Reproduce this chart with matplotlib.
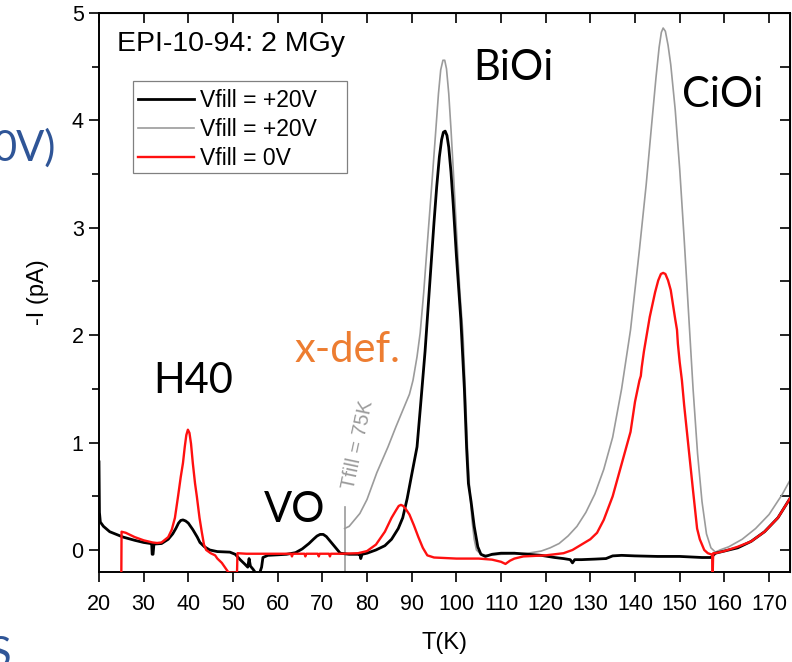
import matplotlib
matplotlib.use("Agg")
import matplotlib.pyplot as plt
from matplotlib.ticker import MultipleLocator
from matplotlib.lines import Line2D
from matplotlib.patches import Rectangle

# ---------------- data: TSC current spectra, EPI-10-94 after 2 MGy ----------------
# Vfill = +20V, filled at low temperature (black)
t_black = [20.0, 20.1, 20.3, 21.0, 22.4, 25.4, 28.0, 30.0, 31.6, 31.8, 31.9, 32.1, 32.3, 34.0,
           35.5, 36.5, 37.2, 37.8, 38.3, 38.8, 39.4, 40.0, 41.0, 42.0, 42.6, 43.6, 44.8, 46.5,
           49.3, 50.5, 51.6, 52.6, 53.3, 53.6, 53.9, 54.5, 55.0, 55.5, 56.0, 56.4, 56.7, 57.8,
           60.0, 62.0, 64.0, 65.5, 67.0, 68.0, 68.8, 69.5, 70.2, 70.9, 71.6, 72.8, 74.0, 76.0,
           78.0, 78.4, 78.6, 78.9, 80.0, 82.0, 84.0, 85.5, 87.0, 88.0, 89.0, 90.0, 91.2, 92.0,
           93.0, 94.0, 95.0, 95.6, 96.2, 96.7, 97.1, 97.5, 97.9, 98.3, 98.8, 99.3, 100.0,
           101.0, 101.8, 102.3, 102.7, 103.3, 104.0, 104.8, 105.5, 106.5, 108.0, 110.0, 113.0,
           116.0, 119.0, 122.0, 124.0, 125.5, 126.0, 126.5, 128.0, 131.0, 133.5, 135.0, 137.0,
           140.0, 145.0, 150.0, 155.0, 157.0, 157.5, 158.0, 160.0, 163.0, 166.0, 169.0, 172.0,
           174.7]
i_black = [0.82, 0.35, 0.26, 0.22, 0.17, 0.12, 0.09, 0.07, 0.06, 0.055, -0.04, -0.04, 0.055, 0.06,
           0.10, 0.15, 0.20, 0.25, 0.275, 0.28, 0.27, 0.25, 0.19, 0.12, 0.07, 0.03, 0.0, -0.015,
           -0.02, -0.04, -0.09, -0.13, -0.16, -0.08, -0.15, -0.18, -0.21, -0.21, -0.21, -0.16,
           -0.07, -0.05,
           -0.045, -0.04, -0.025, 0.01, 0.06, 0.10, 0.13, 0.145, 0.145, 0.125, 0.09, 0.03, -0.03,
           -0.04,
           -0.04, -0.04, -0.08, -0.04, -0.03, 0.0, 0.04, 0.10, 0.20, 0.30, 0.48, 0.70, 0.96, 1.35,
           1.85, 2.45, 3.05, 3.38, 3.66, 3.82, 3.89, 3.90, 3.86, 3.75, 3.52, 3.22, 2.75,
           2.15, 1.50, 0.95, 0.62, 0.45, 0.22, 0.03, -0.04, -0.06, -0.04, -0.03, -0.03,
           -0.04, -0.05, -0.07, -0.08, -0.09, -0.12, -0.09, -0.09, -0.085, -0.08, -0.055, -0.05,
           -0.055, -0.06, -0.06, -0.07, -0.07, -0.05, -0.03, -0.01, 0.02, 0.08, 0.17, 0.30,
           0.48]

# Vfill = +20V, filled at Tfill = 75K (grey)
t_grey = [75.0, 76.0, 77.0, 78.4, 80.0, 82.2, 84.7, 86.5, 88.0, 89.5, 90.3, 91.2, 91.9, 92.7,
          93.5, 94.5, 95.3, 96.0, 96.5, 97.0, 97.4, 97.8, 98.3, 98.8, 99.3, 100.0, 100.8,
          101.5, 102.0, 102.5, 103.0, 103.5, 104.0, 104.5, 105.5, 107.0, 110.0, 113.0, 116.0,
          119.0, 121.0, 123.0, 125.0, 127.0, 129.0, 131.0, 133.0, 135.0, 137.0, 139.0, 141.0,
          142.5, 143.7, 144.7, 145.4, 145.9, 146.3, 146.8, 147.4, 148.0, 149.0, 150.0, 151.0,
          152.0, 153.0, 154.0, 155.0, 156.0, 157.0, 158.0, 159.0, 161.0, 164.0, 167.0, 170.0,
          173.0, 174.7]
i_grey = [0.20, 0.22, 0.27, 0.34, 0.47, 0.72, 0.96, 1.15, 1.30, 1.45, 1.58, 1.80, 2.02, 2.40,
          2.85, 3.40, 3.85, 4.25, 4.47, 4.56, 4.56, 4.48, 4.25, 3.92, 3.55, 3.00, 2.40,
          2.00, 1.50, 0.95, 0.55, 0.28, 0.10, 0.0, -0.04, -0.05, -0.04, -0.035, -0.03,
          -0.01, 0.02, 0.06, 0.13, 0.22, 0.35, 0.52, 0.75, 1.05, 1.50, 2.05, 2.80,
          3.40, 3.95, 4.40, 4.68, 4.82, 4.86, 4.83, 4.70, 4.52, 4.10, 3.55, 2.90,
          2.20, 1.50, 0.90, 0.45, 0.15, 0.02, -0.02, 0.0, 0.03, 0.10, 0.20, 0.33,
          0.52, 0.65]

# Vfill = 0V (red)
t_red = [25.0, 25.05, 26.0, 27.0, 28.0, 30.0, 32.0, 33.0, 34.0, 35.5, 36.3, 37.0, 37.7, 38.3,
         38.8, 39.2, 39.55, 39.9, 40.25, 40.6, 41.0, 41.5, 41.9, 42.5, 43.0, 43.5, 44.0, 45.0,
         46.0, 46.5, 47.0, 47.5, 48.0, 48.5, 49.0, 50.9, 51.0, 53.0, 56.0, 60.0, 63.0, 63.2,
         63.4, 66.0, 66.2, 66.4, 69.0, 69.2, 69.4, 71.5, 71.7, 71.9, 74.0, 78.0, 80.0, 82.0,
         84.0, 85.5, 86.5, 87.1, 87.6, 88.1, 88.7, 89.5, 90.5, 91.5, 92.5, 93.5, 95.0, 100.0,
         105.0, 108.0, 110.0, 111.0, 112.0, 113.0, 115.0, 120.0, 122.0, 124.0, 126.0, 128.0,
         130.0, 131.5, 133.0, 135.0, 137.0, 139.0, 140.0, 141.0, 141.3, 141.5, 142.0, 143.3,
         144.5, 145.2, 145.8, 146.3, 146.8, 147.4, 148.0, 149.0, 149.4, 149.6, 150.0, 150.5,
         151.0, 152.0, 153.0, 153.9, 154.5, 155.0, 155.5, 156.3, 157.0, 157.3, 157.4, 157.5,
         158.0, 160.0, 163.0, 166.0, 169.0, 172.0, 174.7]
i_red = [-0.21, 0.17, 0.16, 0.14, 0.12, 0.09, 0.07, 0.065, 0.07, 0.12, 0.19, 0.30, 0.50, 0.68,
         0.81, 0.96, 1.07, 1.12, 1.09, 0.99, 0.81, 0.62, 0.50, 0.30, 0.17, 0.05, 0.0, -0.03,
         -0.05, -0.08, -0.10, -0.12, -0.15, -0.18, -0.21, -0.21, -0.03, -0.035, -0.035, -0.035,
         -0.035, -0.06,
         -0.035, -0.035, -0.06, -0.035, -0.035, -0.06, -0.035, -0.035, -0.06, -0.035, -0.035,
         -0.03, -0.01, 0.05,
         0.17, 0.30, 0.37, 0.41, 0.42, 0.41, 0.38, 0.33, 0.23, 0.12, 0.02, -0.05, -0.07, -0.08,
         -0.08, -0.09, -0.11, -0.13, -0.10, -0.08, -0.06, -0.05, -0.04, -0.03, 0.0, 0.05,
         0.10, 0.16, 0.28, 0.50, 0.80, 1.10, 1.38, 1.58, 1.62, 1.70, 1.85, 2.17,
         2.40, 2.51, 2.57, 2.58, 2.57, 2.51, 2.42, 2.15, 2.05, 1.92, 1.75, 1.58,
         1.35, 0.95, 0.55, 0.20, 0.10, 0.05, 0.0, -0.03, -0.04, -0.04, -0.21, -0.03,
         -0.03, -0.01, 0.03, 0.08, 0.17, 0.30, 0.48]

t_fill = 75.0          # filling temperature of the grey run
t_fill_marker_top = 0.40

x_ticks = list(range(20, 171, 10))
y_ticks = [0, 1, 2, 3, 4, 5]

legend_labels = ["Vfill = +20V", "Vfill = +20V", "Vfill = 0V"]
sample_title = "EPI-10-94: 2 MGy"

peak_labels = ["H40", "VO", "BiOi", "CiOi"]
peak_label_pos = [(41.0, 1.57), (63.7, 0.37), (112.7, 4.49), (159.7, 4.24)]
xdef_label = "x-def."
xdef_pos = (75.7, 1.86)
tfill_label = "Tfill = 75K"
tfill_label_pos = (78.0, 0.98)

# ---------------- figure ----------------
W, H = 792, 662
fig = plt.figure(figsize=(W / 100, H / 100), dpi=100)
ax = fig.add_axes([99 / W, 90 / H, 691 / W, 559 / H])

axis_font = "Liberation Sans"
note_font = "Lato"
grey = "#9b9b9b"
red = "#ff1010"

ax.plot(t_grey, i_grey, color=grey, lw=1.2, zorder=2)
ax.plot([t_fill, t_fill], [-0.3, t_fill_marker_top], color=grey, lw=1.2, zorder=2)
ax.plot(t_black, i_black, color="black", lw=2.0, zorder=3)
ax.plot(t_red, i_red, color=red, lw=1.7, zorder=4)

ax.set_xlim(20, 174.7)
ax.set_ylim(-0.205, 5.0)

for s in ax.spines.values():
    s.set_linewidth(1.4)

ax.set_xticks(x_ticks)
ax.set_yticks(y_ticks)
ax.yaxis.set_minor_locator(MultipleLocator(0.5))
ax.tick_params(axis="x", which="major", direction="out", length=7, width=1.2,
               labelsize=15.5, pad=9)
ax.tick_params(axis="y", which="major", direction="out", length=7, width=1.2,
               labelsize=15.5, pad=4)
ax.tick_params(axis="y", which="minor", direction="out", length=5, width=1.2)
for lab in ax.get_xticklabels() + ax.get_yticklabels():
    lab.set_fontfamily(axis_font)

top = ax.secondary_xaxis("top")
top.set_xticks(x_ticks)
top.tick_params(direction="in", length=7, width=1.2, labeltop=False)
right = ax.secondary_yaxis("right")
right.yaxis.set_major_locator(MultipleLocator(0.5))
right.tick_params(direction="in", length=7, width=1.2, labelright=False)

ax.set_xlabel("T(K)", fontfamily=axis_font, fontsize=17, labelpad=12)
ax.set_ylabel("-I (pA)", fontfamily=axis_font, fontsize=17, labelpad=16)

ax.text(0.026, 0.945, sample_title, transform=ax.transAxes, fontfamily=axis_font,
        fontsize=20.5, va="center", ha="left")

# legend: frame drawn separately so it keeps its wide box
ax.add_patch(Rectangle((0.0492, 0.714), 0.3097, 0.164, transform=ax.transAxes,
                       facecolor="white", edgecolor="#808080", lw=0.9, zorder=7))
handles = [Line2D([], [], color="black", lw=2.0),
           Line2D([], [], color=grey, lw=1.2),
           Line2D([], [], color=red, lw=1.7)]
leg = ax.legend(handles, legend_labels, loc="upper left", bbox_to_anchor=(0.046, 0.877),
                borderaxespad=0, prop={"family": axis_font, "size": 16.5},
                frameon=False, handlelength=2.45, handletextpad=0.28, labelspacing=0.28,
                borderpad=0.3)
leg.set_zorder(8)

for txt, (x, y) in zip(peak_labels, peak_label_pos):
    ax.text(x, y, txt, fontfamily=note_font, fontsize=30, ha="center", va="center", zorder=6)
ax.text(*xdef_pos, xdef_label, fontfamily=note_font, fontsize=30, color="#ed7d31",
        ha="center", va="center", zorder=6)
ax.text(*tfill_label_pos, tfill_label, fontfamily=axis_font, fontsize=14.5, color=grey,
        rotation=78, ha="center", va="center", zorder=6)

# fragments of the surrounding slide text
fig.text(56 / W, 1 - 148 / H, "0V)", fontfamily=note_font, fontsize=30, color="#2f5597",
         ha="right", va="center")
fig.text(11 / W, 1 - 636 / H, "S", fontfamily=note_font, fontsize=30, color="#2f5597",
         ha="right", va="top")

fig.savefig("out.png", dpi=100)
